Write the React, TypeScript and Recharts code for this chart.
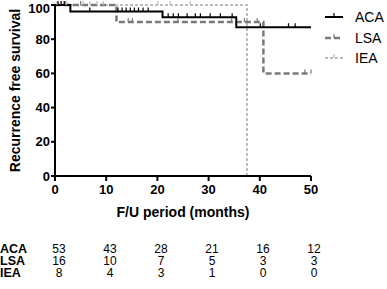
import { ComposedChart, Line, Scatter, XAxis, YAxis } from 'recharts'

// Kaplan-Meier steps (time in months, survival %)
const acaTimes = [0, 3, 21, 35.4, 50]
const acaSurv = [100, 96.2, 92.8, 87, 87]
const lsaTimes = [0, 12, 40.7, 50]
const lsaSurv = [100, 90, 60, 60]
const ieaTimes = [0, 37.5]
const ieaSurv = [100, 0]

// censored observations (months)
const acaCensored = [0.6, 1.2, 1.8, 6.8, 12.3, 13.1, 13.9, 14.7, 15.5, 16.3, 17.2, 18.2, 22.1, 23.1, 24.1, 25.8, 27.4, 28.4, 30.3, 32.3, 34.6, 40.1, 45.6, 46.9]
const lsaCensored = [2, 5, 14.3, 15.1, 24, 34.5, 37, 39.5, 48.8, 50]
const ieaCensored = [0.4, 1.2, 2.2, 5.5, 6.8, 8.2, 9.4, 20.1, 22.5, 26.4]

const xTicks = [0, 10, 20, 30, 40, 50]
const yTicks = [0, 20, 40, 60, 80, 100]

// numbers at risk
const riskTimes = [0, 10, 20, 30, 40, 50]
const acaRisk = [53, 43, 28, 21, 16, 12]
const lsaRisk = [16, 10, 7, 5, 3, 3]
const ieaRisk = [8, 4, 3, 1, 0, 0]

const FONT = "'Liberation Sans', Arial, Helvetica, sans-serif"
const ACA_C = '#000000'
const LSA_C = '#7a7a7a'
const IEA_C = '#bdbdbd'

const steps = (times: number[], surv: number[]) => times.map((t, i) => ({ t, s: surv[i] }))

const levelAt = (times: number[], surv: number[], t: number) => {
  let v = surv[0]
  times.forEach((tt, i) => {
    if (tt <= t) v = surv[i]
  })
  return v
}

const censorPoints = (cens: number[], times: number[], surv: number[]) =>
  cens.map((t) => ({ t, s: levelAt(times, surv, t) }))

const tickShape = (color: string) => (props: any) => {
  const { cx, cy } = props
  return <line x1={cx} x2={cx} y1={cy} y2={cy - 4} stroke={color} strokeWidth={1.2} />
}

const rows = [
  { name: 'ACA', values: acaRisk, y: 253 },
  { name: 'LSA', values: lsaRisk, y: 265 },
  { name: 'IEA', values: ieaRisk, y: 277 },
]

const legend = [
  { name: 'ACA', color: ACA_C, dash: undefined, width: 2, y: 17 },
  { name: 'LSA', color: LSA_C, dash: '6 3', width: 2.5, y: 38 },
  { name: 'IEA', color: IEA_C, dash: '3 2', width: 2, y: 58 },
]

export default function App() {
  return (
    <div style={{ position: 'absolute', left: 0, top: 0, width: 387, height: 289, background: '#fff', fontFamily: FONT }}>
      <ComposedChart width={387} height={230} margin={{ top: 5, right: 76, bottom: 24, left: 0 }}>
        <XAxis
          dataKey="t"
          type="number"
          domain={[0, 50]}
          ticks={xTicks}
          height={30}
          tickSize={5}
          tickMargin={4}
          axisLine={{ stroke: '#000', strokeWidth: 2 }}
          tickLine={{ stroke: '#000', strokeWidth: 2 }}
          tick={{ fill: '#000', fontSize: 13, fontWeight: 'bold', fontFamily: FONT }}
          label={{ value: 'F/U period (months)', position: 'bottom', offset: 1, style: { fill: '#000', fontSize: 14, fontWeight: 'bold', fontFamily: FONT } }}
        />
        <YAxis
          type="number"
          domain={[0, 100]}
          ticks={yTicks}
          width={55}
          tickSize={4}
          tickMargin={1}
          axisLine={{ stroke: '#000', strokeWidth: 2 }}
          tickLine={{ stroke: '#000', strokeWidth: 2 }}
          tick={{ fill: '#000', fontSize: 13, fontWeight: 'bold', fontFamily: FONT }}
          label={{ value: 'Recurrence free survival', angle: -90, position: 'insideLeft', offset: 15, style: { textAnchor: 'middle', fill: '#000', fontSize: 14, fontWeight: 'bold', fontFamily: FONT } }}
        />
        <Line data={steps(ieaTimes, ieaSurv)} dataKey="s" type="stepAfter" stroke={IEA_C} strokeWidth={2} strokeDasharray="3 2" dot={false} activeDot={false} isAnimationActive={false} />
        <Line data={steps(lsaTimes, lsaSurv)} dataKey="s" type="stepAfter" stroke={LSA_C} strokeWidth={2.5} strokeDasharray="6 3" dot={false} activeDot={false} isAnimationActive={false} />
        <Line data={steps(acaTimes, acaSurv)} dataKey="s" type="stepAfter" stroke={ACA_C} strokeWidth={2} dot={false} activeDot={false} isAnimationActive={false} />
        <Scatter data={censorPoints(ieaCensored, ieaTimes, ieaSurv)} dataKey="s" shape={tickShape(IEA_C)} isAnimationActive={false} />
        <Scatter data={censorPoints(lsaCensored, lsaTimes, lsaSurv)} dataKey="s" shape={tickShape(LSA_C)} isAnimationActive={false} />
        <Scatter data={censorPoints(acaCensored, acaTimes, acaSurv)} dataKey="s" shape={tickShape(ACA_C)} isAnimationActive={false} />
      </ComposedChart>

      <svg width={387} height={289} style={{ position: 'absolute', left: 0, top: 0, pointerEvents: 'none' }}>
        {legend.map((l) => (
          <g key={l.name}>
            <line x1={325} x2={343} y1={l.y} y2={l.y} stroke={l.color} strokeWidth={l.width} strokeDasharray={l.dash} />
            <line x1={334} x2={334} y1={l.y} y2={l.y - 4} stroke={l.color} strokeWidth={1.2} />
            <text x={355} y={l.y + 5} fontSize={14} fontFamily={FONT} fill="#000">
              {l.name}
            </text>
          </g>
        ))}
        {rows.map((r) => (
          <g key={r.name}>
            <text x={0} y={r.y} fontSize={12.5} fontWeight="bold" fontFamily={FONT} fill="#000">
              {r.name}
            </text>
            {r.values.map((v, i) => (
              <text key={i} x={59 + riskTimes[i] * 5.1} y={r.y} fontSize={12} fontFamily={FONT} fill="#000" textAnchor="middle">
                {v}
              </text>
            ))}
          </g>
        ))}
      </svg>
    </div>
  )
}
